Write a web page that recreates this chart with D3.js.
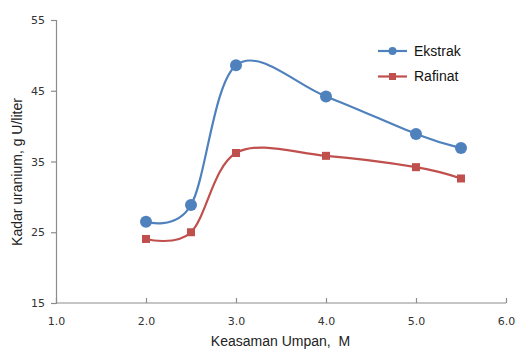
<!DOCTYPE html>
<html>
<head>
<meta charset="utf-8">
<script src="https://cdn.jsdelivr.net/npm/d3@7"></script>
<style>
  html, body { margin: 0; padding: 0; background: #fff; }
  svg { display: block; }
</style>
</head>
<body>
<svg id="chart" width="517" height="349"></svg>
<script>
// Feed acidity (M) and uranium content (g U/liter)
const acidity = [2.0, 2.5, 3.0, 4.0, 5.0, 5.5];
const ekstrak = [26.5, 28.85, 48.6, 44.2, 38.9, 36.9];
const rafinat = [24.05, 25.0, 36.2, 35.8, 34.2, 32.6];
const xTicks = [1, 2, 3, 4, 5, 6];
const yTicks = [15, 25, 35, 45, 55];
const seriesNames = ["Ekstrak", "Rafinat"];

const svg = d3.select("#chart");
const axisColor = "#8c8c8c";
const tickFont = "Verdana, 'DejaVu Sans', sans-serif";
const titleFont = "Arial, 'Liberation Sans', sans-serif";

const x = d3.scaleLinear().domain([1, 6]).range([56, 506]);
const y = d3.scaleLinear().domain([15, 55]).range([303, 20]);

// y axis
const yAxis = svg.append("g")
  .attr("transform", `translate(${x(1)},0)`)
  .call(d3.axisLeft(y).tickValues(yTicks).tickSize(5).tickPadding(6).tickFormat(d3.format("d")));
// x axis, ticks pointing up into the plot
const xAxis = svg.append("g")
  .attr("transform", `translate(0,${y(15)})`)
  .call(d3.axisBottom(x).tickValues(xTicks).tickSizeInner(-5).tickSizeOuter(0).tickPadding(14).tickFormat(d3.format(".1f")));

[yAxis, xAxis].forEach(g => {
  g.select(".domain").attr("stroke", axisColor).attr("stroke-width", 1.2);
  g.selectAll(".tick line").attr("stroke", axisColor).attr("stroke-width", 1.2);
  g.selectAll(".tick text").attr("fill", "#333").style("font-family", tickFont).style("font-size", "11px");
});
xAxis.select(".domain").attr("d", `M${x(1)},0H${x(6)}`);
xAxis.selectAll(".tick text").attr("dy", "0.71em").attr("y", 14);

// axis titles
svg.append("text")
  .attr("x", 280.5).attr("y", 345.5)
  .attr("text-anchor", "middle")
  .style("font-family", titleFont).style("font-size", "14px").attr("fill", "#222")
  .attr("xml:space", "preserve")
  .text("Keasaman Umpan,  M");
svg.append("text")
  .attr("transform", "translate(22,172) rotate(-90)")
  .attr("text-anchor", "middle")
  .style("font-family", titleFont).style("font-size", "14px").attr("fill", "#222")
  .text("Kadar uranium, g U/liter");

const line = d3.line().x(d => x(d[0])).y(d => y(d[1])).curve(d3.curveCardinal.tension(0));
const series = [
  { name: seriesNames[0], values: ekstrak, color: "#4f81bd", marker: "circle" },
  { name: seriesNames[1], values: rafinat, color: "#c0504d", marker: "square" }
];

series.forEach(s => {
  const pts = acidity.map((a, i) => [a, s.values[i]]);
  svg.append("path").datum(pts)
    .attr("d", line).attr("fill", "none")
    .attr("stroke", s.color).attr("stroke-width", 2.2);
  if (s.marker === "circle") {
    svg.selectAll(null).data(pts).enter().append("circle")
      .attr("cx", d => x(d[0])).attr("cy", d => y(d[1])).attr("r", 6)
      .attr("fill", s.color);
  } else {
    svg.selectAll(null).data(pts).enter().append("rect")
      .attr("x", d => x(d[0]) - 4).attr("y", d => y(d[1]) - 4)
      .attr("width", 8).attr("height", 8).attr("fill", s.color);
  }
});

// legend
const legend = svg.append("g");
series.forEach((s, i) => {
  const ly = 51 + i * 25.5;
  legend.append("line").attr("x1", 378).attr("x2", 407).attr("y1", ly).attr("y2", ly)
    .attr("stroke", s.color).attr("stroke-width", 2.2);
  if (s.marker === "circle") {
    legend.append("circle").attr("cx", 392.5).attr("cy", ly).attr("r", 4).attr("fill", s.color);
  } else {
    legend.append("rect").attr("x", 389).attr("y", ly - 3.5).attr("width", 7).attr("height", 7).attr("fill", s.color);
  }
  legend.append("text").attr("x", 414).attr("y", ly).attr("dy", "0.35em")
    .style("font-family", titleFont).style("font-size", "14px").attr("fill", "#111")
    .text(s.name);
});
</script>
</body>
</html>
